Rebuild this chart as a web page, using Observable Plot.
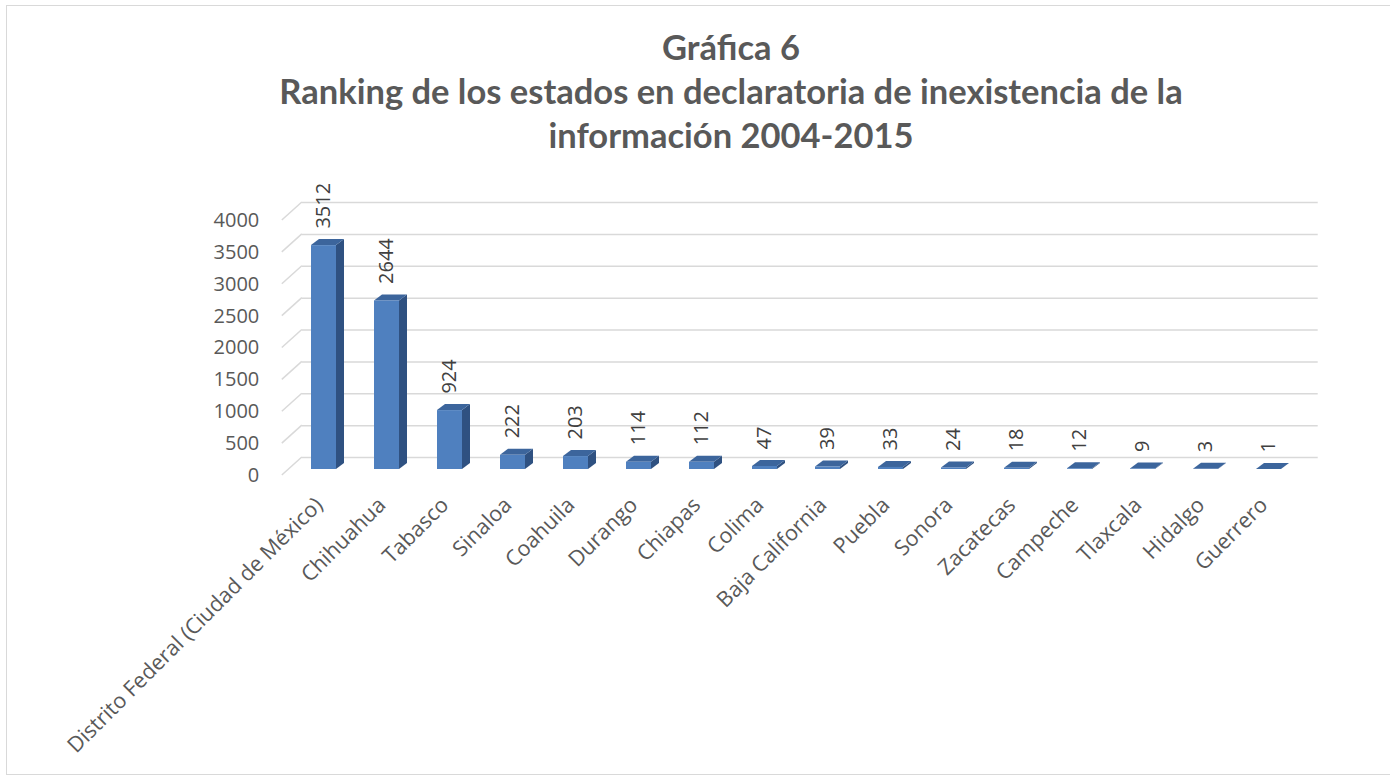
<!DOCTYPE html>
<html><head><meta charset="utf-8">
<script src="https://cdn.jsdelivr.net/npm/d3@7"></script>
<script src="https://cdn.jsdelivr.net/npm/@observablehq/plot@0.6"></script>
<style>
html,body{margin:0;padding:0;background:#fff;width:1390px;height:776px;overflow:hidden;}
#frame{position:absolute;left:6px;top:5px;width:1400px;height:770px;border:1px solid #d9d9d9;box-sizing:border-box;}
#title{position:absolute;left:0;top:25px;width:1462px;text-align:center;font-family:Lato,"Open Sans",sans-serif;font-weight:bold;font-size:34.5px;line-height:44px;color:#595959;}
#chart{position:absolute;left:0;top:160px;}
</style></head>
<body>
<div id="frame"></div>
<div id="title">Gráfica 6<br>Ranking de los estados en declaratoria de inexistencia de la<br>información 2004-2015</div>
<div id="chart"></div>
<script>
const estados = ["Distrito Federal (Ciudad de México)","Chihuahua","Tabasco","Sinaloa","Coahuila","Durango","Chiapas","Colima","Baja California","Puebla","Sonora","Zacatecas","Campeche","Tlaxcala","Hidalgo","Guerrero"];
const valores = [3512,2644,924,222,203,114,112,47,39,33,24,18,12,9,3,1];
const yTicks = [0,500,1000,1500,2000,2500,3000,3500,4000];

const data = estados.map((estado, i) => ({estado, valor: valores[i]}));

const FRONT = "#4f80bf", TOP = "#3c659c", SIDE = "#2f5181", GRID = "#d9d9d9";
const DX = 8, DY = -6, BAR_DY = -6, WALL_DX = 20, WALL_DY = -18;

function bars3d(index, scales, values) {
  const bw = scales.x.bandwidth();
  const g = d3.create("svg:g");
  for (const i of index) {
    const x0 = values.x[i], x1 = x0 + bw;
    const yb = Math.max(values.y1[i], values.y2[i]) + BAR_DY;
    const yt = Math.min(values.y1[i], values.y2[i]) + BAR_DY;
    g.append("path").attr("fill", SIDE)
      .attr("d", `M${x1},${yb}L${x1+DX},${yb+DY}L${x1+DX},${yt+DY}L${x1},${yt}Z`);
    g.append("path").attr("fill", TOP)
      .attr("d", `M${x0},${yt}L${x1},${yt}L${x1+DX},${yt+DY}L${x0+DX},${yt+DY}Z`);
    g.append("rect").attr("fill", FRONT)
      .attr("x", x0).attr("y", yt).attr("width", bw).attr("height", Math.max(0, yb - yt));
  }
  return g.node();
}

function sideWall(index, scales, values, dims) {
  const g = d3.create("svg:g").attr("stroke", GRID).attr("stroke-width", 1.5);
  const xf = dims.marginLeft - 7;
  for (const i of index) {
    const y = values.y[i];
    g.append("line").attr("x1", xf).attr("y1", y).attr("x2", xf + WALL_DX).attr("y2", y + WALL_DY);
  }
  return g.node();
}

const chart = Plot.plot({
  width: 1390,
  height: 600,
  marginLeft: 288.8,
  marginRight: 87.3,
  marginTop: 60,
  marginBottom: 285,
  x: {type: "band", domain: estados, paddingInner: 0.6, paddingOuter: 0.3, axis: null},
  y: {domain: [0, 4000], axis: null},
  style: {fontFamily: "'Open Sans', sans-serif", background: "transparent", color: "#595959", overflow: "visible"},
  marks: [
    Plot.ruleY(yTicks, {y: d => d, render: sideWall}),
    Plot.ruleY(yTicks, {y: d => d, stroke: GRID, strokeWidth: 1.5, dx: WALL_DX - 7, dy: WALL_DY, insetRight: -2}),
    Plot.text(yTicks, {y: d => d, text: d => String(d), frameAnchor: "left", textAnchor: "end", dx: -30, fontSize: 20, fill: "#595959"}),
    Plot.barY(data, {x: "estado", y: "valor", render: bars3d}),
    Plot.text(data, {x: "estado", y: "valor", text: d => String(d.valor), rotate: -90, textAnchor: "start", lineAnchor: "middle", dy: -23, fontSize: 20, fill: "#404040"}),
    Plot.text(data, {x: "estado", text: "estado", frameAnchor: "bottom", rotate: -45, textAnchor: "end", lineAnchor: "middle", dx: -5, dy: 26, fontSize: 21.5, fill: "#595959"})
  ]
});
document.getElementById("chart").appendChild(chart);
</script>
</body></html>
